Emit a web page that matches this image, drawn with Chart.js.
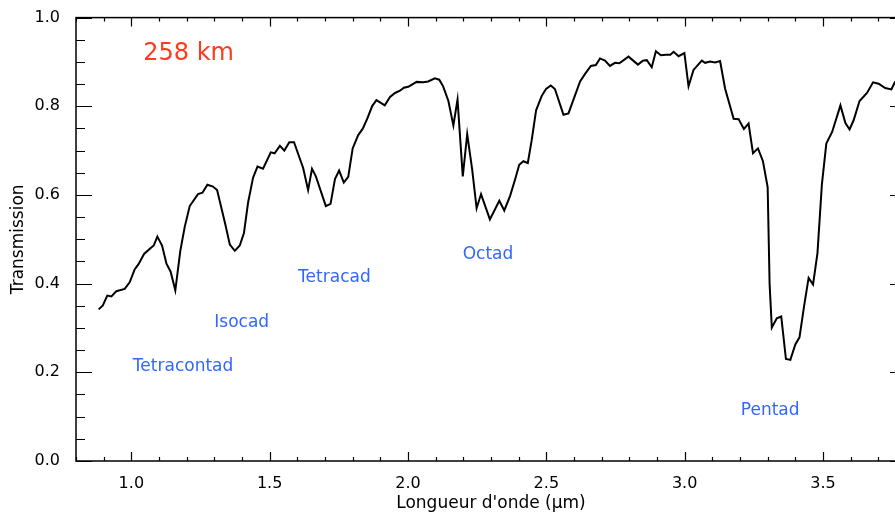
<!DOCTYPE html>
<html>
<head>
<meta charset="utf-8">
<script src="https://cdn.jsdelivr.net/npm/chart.js@4.4.0/dist/chart.umd.min.js"></script>
<style>
    html, body { margin: 0; padding: 0; background: #fff; overflow: hidden; }
    #wrap { width: 912px; height: 517px; }
</style>
</head>
<body>
<div id="wrap"><canvas id="chart" width="912" height="517"></canvas></div>
<script>
// wavelength in micrometres
const wavelength = [
    0.882, 0.897, 0.913, 0.928, 0.946, 0.976, 0.994, 1.012, 1.026, 1.046,
    1.069, 1.081, 1.094, 1.111, 1.127, 1.142, 1.159, 1.177, 1.193, 1.211,
    1.241, 1.257, 1.275, 1.295, 1.310, 1.340, 1.356, 1.374, 1.392, 1.407,
    1.422, 1.440, 1.456, 1.476, 1.504, 1.518, 1.537, 1.553, 1.571, 1.588,
    1.621, 1.639, 1.653, 1.667, 1.703, 1.720, 1.736, 1.751, 1.768, 1.784,
    1.800, 1.820, 1.836, 1.852, 1.871, 1.886, 1.916, 1.935, 1.953, 1.971,
    1.985, 2.001, 2.031, 2.055, 2.073, 2.097, 2.113, 2.127, 2.146, 2.164,
    2.179, 2.198, 2.214, 2.232, 2.248, 2.264, 2.296, 2.330, 2.348, 2.369,
    2.387, 2.402, 2.417, 2.433, 2.447, 2.463, 2.483, 2.499, 2.516, 2.531,
    2.562, 2.580, 2.622, 2.640, 2.661, 2.679, 2.694, 2.712, 2.730, 2.748,
    2.764, 2.797, 2.831, 2.849, 2.863, 2.881, 2.896, 2.914, 2.932, 2.948,
    2.960, 2.978, 2.999, 3.014, 3.032, 3.062, 3.074, 3.092, 3.110, 3.128,
    3.146, 3.177, 3.195, 3.214, 3.231, 3.247, 3.265, 3.283, 3.300, 3.307,
    3.315, 3.333, 3.349, 3.366, 3.382, 3.400, 3.415, 3.433, 3.448, 3.464,
    3.480, 3.496, 3.512, 3.533, 3.563, 3.581, 3.596, 3.611, 3.632, 3.659,
    3.681, 3.701, 3.725, 3.747, 3.761
];
const transmission = [
    0.342, 0.351, 0.373, 0.371, 0.383, 0.388, 0.403, 0.432, 0.444, 0.467,
    0.480, 0.486, 0.506, 0.486, 0.445, 0.427, 0.385, 0.474, 0.528, 0.575,
    0.602, 0.605, 0.623, 0.619, 0.611, 0.533, 0.488, 0.474, 0.486, 0.514,
    0.583, 0.639, 0.664, 0.659, 0.696, 0.694, 0.711, 0.700, 0.719, 0.719,
    0.661, 0.611, 0.659, 0.642, 0.575, 0.580, 0.636, 0.655, 0.628, 0.641,
    0.705, 0.735, 0.749, 0.771, 0.801, 0.814, 0.802, 0.821, 0.830, 0.835,
    0.842, 0.844, 0.855, 0.854, 0.856, 0.863, 0.860, 0.845, 0.812, 0.757,
    0.815, 0.642, 0.737, 0.657, 0.570, 0.602, 0.545, 0.587, 0.565, 0.598,
    0.635, 0.668, 0.676, 0.672, 0.723, 0.791, 0.823, 0.839, 0.847, 0.839,
    0.781, 0.784, 0.856, 0.873, 0.891, 0.893, 0.908, 0.903, 0.891, 0.898,
    0.897, 0.912, 0.894, 0.903, 0.904, 0.888, 0.924, 0.915, 0.916, 0.916,
    0.923, 0.913, 0.920, 0.845, 0.882, 0.903, 0.898, 0.901, 0.899, 0.902,
    0.840, 0.772, 0.771, 0.749, 0.761, 0.694, 0.705, 0.676, 0.617, 0.399,
    0.301, 0.322, 0.326, 0.230, 0.228, 0.263, 0.279, 0.355, 0.413, 0.398,
    0.469, 0.624, 0.716, 0.742, 0.802, 0.762, 0.748, 0.769, 0.812, 0.830,
    0.854, 0.851, 0.841, 0.838, 0.856
];

const xTicks = [1.0, 1.5, 2.0, 2.5, 3.0, 3.5];
const yTicks = [0.0, 0.2, 0.4, 0.6, 0.8, 1.0];

// band names and where they sit (data units)
const bandNames = ['Tetracontad', 'Isocad', 'Tetracad', 'Octad', 'Pentad'];
const bandX = [1.187, 1.399, 1.734, 2.289, 3.309];
const bandY = [0.214, 0.313, 0.413, 0.466, 0.114];

const altitudeLabel = '258 km';
const altitudeX = 1.207;
const altitudeY = 0.919;

const FONT = "'DejaVu Sans', sans-serif";

// IDL style frame with inward ticks on all four sides
const framePlugin = {
    id: 'frame',
    afterDraw(chart) {
        const ctx = chart.ctx;
        const area = chart.chartArea;
        const xs = chart.scales.x;
        const ys = chart.scales.y;

        ctx.save();
        ctx.strokeStyle = '#000';
        ctx.lineWidth = 1.5;
        ctx.strokeRect(area.left, area.top, area.right - area.left, area.bottom - area.top);

        ctx.lineWidth = 1.2;
        ctx.beginPath();
        for (let i = 0; i <= 30; i++) {
            const v = 0.8 + i * 0.1;
            const px = Math.round(xs.getPixelForValue(v)) + 0.5;
            const major = Math.abs(v * 2 - Math.round(v * 2)) < 1e-6;
            const len = major ? 9 : 4;
            ctx.moveTo(px, area.bottom);
            ctx.lineTo(px, area.bottom - len);
            ctx.moveTo(px, area.top);
            ctx.lineTo(px, area.top + len);
        }
        for (let i = 0; i <= 20; i++) {
            const v = i * 0.05;
            const py = Math.round(ys.getPixelForValue(v)) + 0.5;
            const len = i % 4 === 0 ? 16 : 9;
            ctx.moveTo(area.left, py);
            ctx.lineTo(area.left + len, py);
            ctx.moveTo(area.right, py);
            ctx.lineTo(area.right - len, py);
        }
        ctx.stroke();

        ctx.textAlign = 'center';
        ctx.textBaseline = 'middle';
        ctx.fillStyle = '#3366ff';
        ctx.font = '17px ' + FONT;
        bandNames.forEach((name, i) => {
            ctx.fillText(name, xs.getPixelForValue(bandX[i]), ys.getPixelForValue(bandY[i]));
        });

        ctx.fillStyle = '#ff3b1e';
        ctx.font = '24px ' + FONT;
        ctx.fillText(altitudeLabel, xs.getPixelForValue(altitudeX), ys.getPixelForValue(altitudeY));
        ctx.restore();
    }
};

const points = wavelength.map((w, i) => ({x: w, y: transmission[i]}));

new Chart(document.getElementById('chart'), {
    type: 'line',
    data: {
        datasets: [{
            data: points,
            borderColor: '#000',
            borderWidth: 2,
            pointRadius: 0,
            tension: 0,
            fill: false
        }]
    },
    options: {
        responsive: false,
        animation: false,
        devicePixelRatio: 1,
        layout: {padding: {top: 8, right: 6, left: 0, bottom: 0}},
        plugins: {legend: {display: false}, tooltip: {enabled: false}},
        scales: {
            x: {
                type: 'linear',
                min: 0.8,
                max: 3.8,
                afterBuildTicks: (scale) => { scale.ticks = xTicks.map(v => ({value: v})); },
                afterFit: (scale) => { scale.height = 56; },
                grid: {display: false},
                border: {display: false},
                ticks: {
                    color: '#000',
                    padding: 5,
                    font: {family: FONT, size: 16},
                    callback: (v) => Number(v).toFixed(1)
                },
                title: {
                    display: true,
                    text: "Longueur d'onde (µm)",
                    color: '#000',
                    font: {family: FONT, size: 17},
                    padding: {top: 0, bottom: 3}
                }
            },
            y: {
                min: 0,
                max: 1,
                afterBuildTicks: (scale) => { scale.ticks = yTicks.map(v => ({value: v})); },
                afterFit: (scale) => { scale.width = 76; },
                grid: {display: false},
                border: {display: false},
                ticks: {
                    color: '#000',
                    padding: 8,
                    font: {family: FONT, size: 16},
                    callback: (v) => Number(v).toFixed(1)
                },
                title: {
                    display: true,
                    text: 'Transmission',
                    color: '#000',
                    font: {family: FONT, size: 17},
                    padding: {top: 8, bottom: 0}
                }
            }
        }
    },
    plugins: [framePlugin]
});
</script>
</body>
</html>
